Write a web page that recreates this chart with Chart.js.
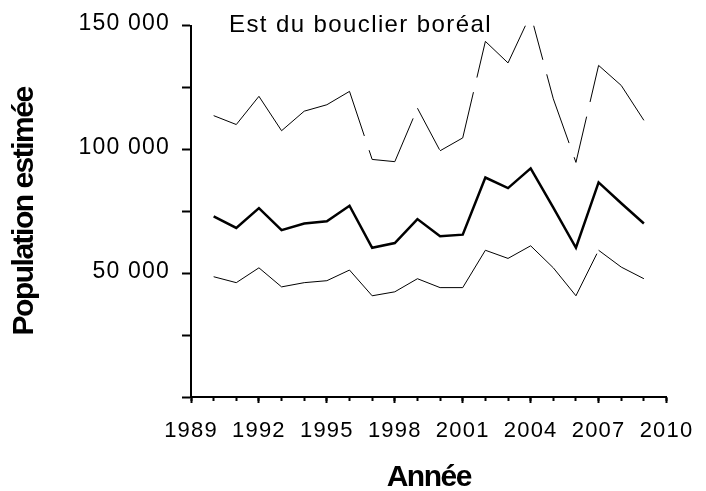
<!DOCTYPE html>
<html lang="fr">
<head>
<meta charset="utf-8">
<title>Est du bouclier boréal</title>
<script src="https://cdn.jsdelivr.net/npm/chart.js@4.4.1/dist/chart.umd.min.js"></script>
<style>
    html, body { margin: 0; padding: 0; background: #fff; }
    #wrap { width: 706px; height: 491px; }
</style>
</head>
<body>
<div id="wrap"><canvas id="chart" width="706" height="491"></canvas></div>
<script>
const regionLabel = 'Est du bouclier boréal';
const yTitle = 'Population estimée';
const xTitle = 'Année';

const years = [1990, 1991, 1992, 1993, 1994, 1995, 1996, 1997, 1998, 1999,
               2000, 2001, 2002, 2003, 2004, 2005, 2006, 2007, 2008, 2009];

const estimate = [73000, 68300, 76300, 67400, 70100, 71000, 77300, 60300, 62200, 71900,
                  65000, 65600, 88700, 84400, 92400, 76500, 60300, 86700, 78300, 70100];
const upperBound = [113700, 110100, 121500, 107600, 115500, 118100, 123500, 96000, 95100, 116700,
                    99500, 104700, 143700, 135000, 154600, 120500, 94800, 134000, 125900, 111800];
const lowerBound = [48600, 46200, 52200, 44500, 46200, 47000, 51300, 40900, 42500, 47800,
                    44200, 44200, 59300, 56000, 61100, 52200, 40900, 59300, 52500, 47800];

const xLabelYears = [1989, 1992, 1995, 1998, 2001, 2004, 2007, 2010];
const yLabelValues = [50000, 100000, 150000];

const sansFont = '"Liberation Sans", Arial, sans-serif';

const toPoints = values => values.map((v, i) => ({ x: years[i], y: v }));

// each year-to-year piece gets its own path, so the dash starts over at every point
const restartDash = {
    borderDashOffset: ctx => (ctx.p0DataIndex % 2) * 0.01
};

const boundStyle = {
    borderColor: '#000',
    borderWidth: 1,
    borderDash: [47, 15],
    borderCapStyle: 'butt',
    pointRadius: 0,
    tension: 0,
    segment: restartDash
};

// axis titles are drawn before the datasets, tick labels (z: 1) after them
const textSpacing = {
    id: 'textSpacing',
    beforeDraw(chart) {
        chart.ctx.letterSpacing = '-1.5px';
    },
    afterDatasetsDraw(chart) {
        chart.ctx.letterSpacing = '1.2px';
    },
    afterDraw(chart) {
        const { ctx, chartArea } = chart;
        ctx.save();
        ctx.letterSpacing = '1.4px';
        ctx.font = '24px ' + sansFont;
        ctx.fillStyle = '#000';
        ctx.textAlign = 'left';
        ctx.textBaseline = 'middle';
        ctx.fillText(regionLabel, chartArea.left + 38, chartArea.top);
        ctx.restore();
        ctx.letterSpacing = '0px';
    }
};

new Chart(document.getElementById('chart'), {
    type: 'line',
    data: {
        datasets: [
            Object.assign({ label: 'Limite supérieure', data: toPoints(upperBound), xAxisID: 'x', yAxisID: 'y' }, boundStyle),
            {
                label: 'Population estimée',
                data: toPoints(estimate),
                xAxisID: 'x',
                yAxisID: 'y',
                borderColor: '#000',
                borderWidth: 2.5,
                pointRadius: 0,
                tension: 0
            },
            Object.assign({ label: 'Limite inférieure', data: toPoints(lowerBound), xAxisID: 'x', yAxisID: 'y' }, boundStyle)
        ]
    },
    options: {
        responsive: false,
        animation: false,
        devicePixelRatio: 1,
        layout: { padding: { top: 23, right: 30, bottom: 0, left: 0 } },
        plugins: {
            legend: { display: false },
            tooltip: { enabled: false }
        },
        scales: {
            x: {
                type: 'linear',
                position: 'bottom',
                min: 1989,
                max: 2010,
                afterFit: scale => { scale.height = 94; },
                border: { display: true, color: '#000', width: 2 },
                grid: { drawOnChartArea: false, drawTicks: true, tickLength: 6, tickWidth: 2, tickColor: '#000' },
                ticks: {
                    z: 1,
                    stepSize: 3,
                    autoSkip: false,
                    maxRotation: 0,
                    padding: 15,
                    color: '#000',
                    font: { family: sansFont, size: 22 },
                    callback: v => xLabelYears.includes(v) ? String(v) : ''
                },
                title: {
                    display: true,
                    text: xTitle,
                    color: '#000',
                    padding: { top: 0, bottom: 0 },
                    font: { family: sansFont, size: 30, weight: 'bold', lineHeight: 0.9 }
                }
            },
            xMinor: {
                axis: 'x',
                type: 'linear',
                position: { y: 0 },
                min: 1989,
                max: 2010,
                border: { display: false },
                grid: { drawOnChartArea: false, drawTicks: true, tickLength: 4, tickWidth: 2, tickColor: '#000' },
                ticks: { stepSize: 1, display: false }
            },
            y: {
                type: 'linear',
                position: 'left',
                min: 0,
                max: 150000,
                afterFit: scale => { scale.width = 191; },
                border: { display: true, color: '#000', width: 2 },
                grid: { drawOnChartArea: false, drawTicks: true, tickLength: 9, tickWidth: 2, tickColor: '#000' },
                ticks: {
                    z: 1,
                    stepSize: 25000,
                    padding: 12,
                    labelOffset: -2,
                    color: '#000',
                    font: { family: sansFont, size: 23 },
                    callback: v => yLabelValues.includes(v) ? (v / 1000) + ' 000' : ''
                },
                title: {
                    display: true,
                    text: yTitle,
                    color: '#000',
                    padding: { top: 7, bottom: 0 },
                    font: { family: sansFont, size: 30, weight: 'bold', lineHeight: 1.2 }
                }
            }
        }
    },
    plugins: [textSpacing]
});
</script>
</body>
</html>
